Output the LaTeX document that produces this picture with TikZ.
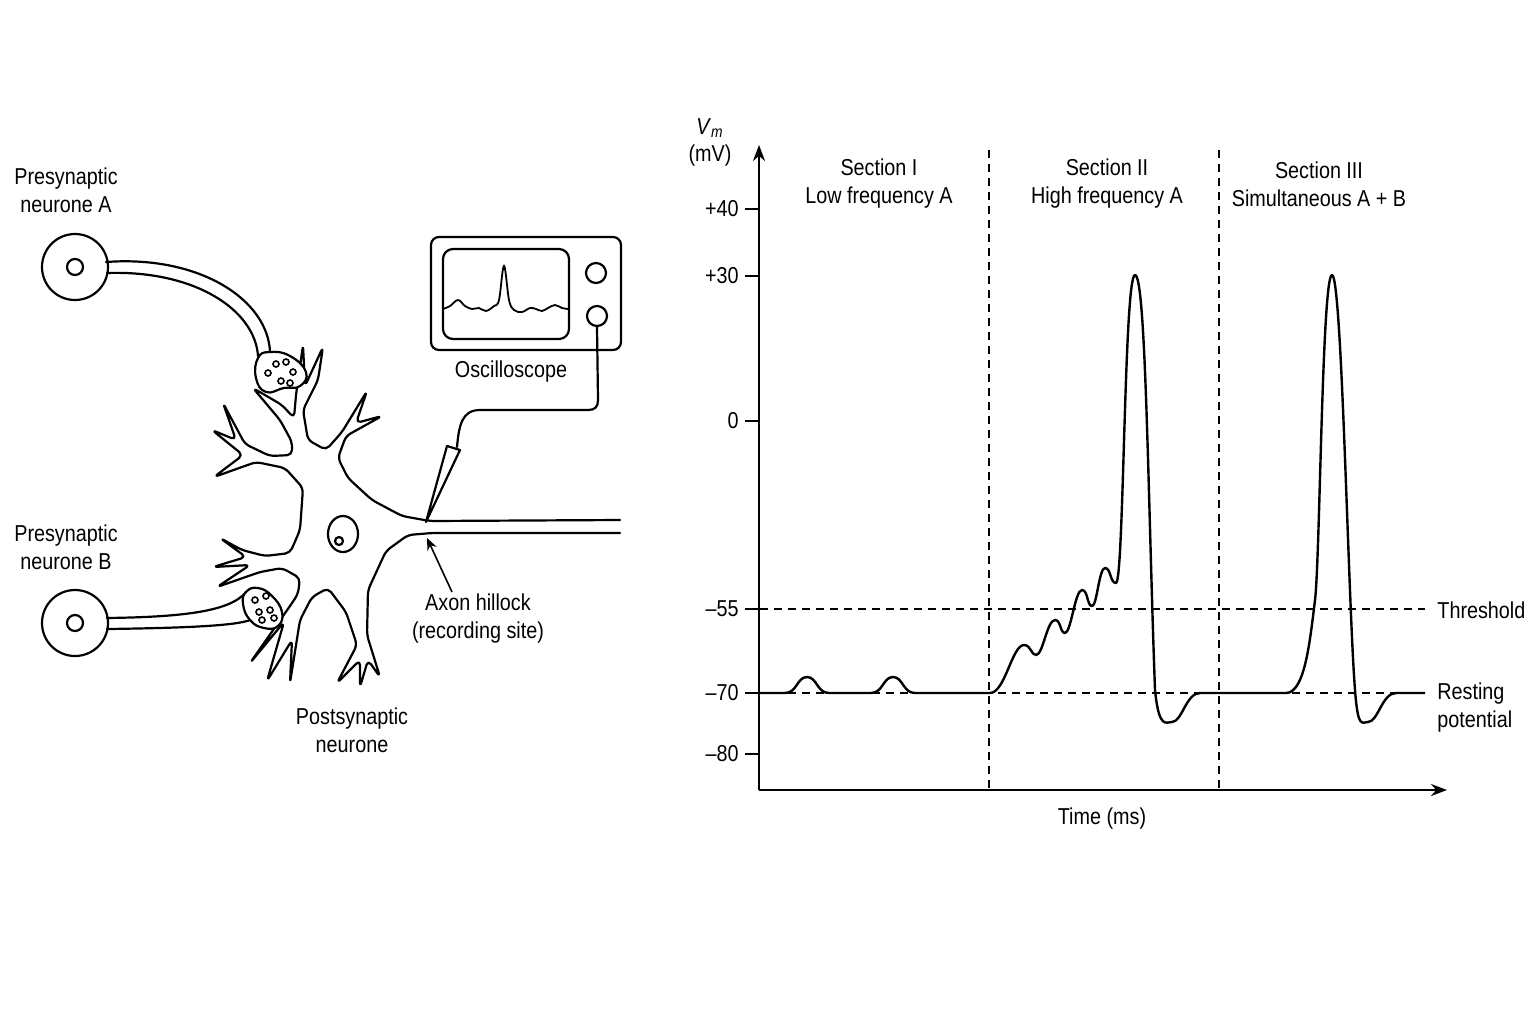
\documentclass[tikz,border=0pt]{standalone}
\usepackage{fontspec}
\setmainfont{Liberation Sans}[FakeStretch=0.86]
\usetikzlibrary{arrows.meta}
\begin{document}
\begin{tikzpicture}[x=0.5pt,y=-0.5pt,
  ln/.style={line width=1.1pt,line join=round,line cap=round},
  dsh/.style={line width=0.7pt,dash pattern=on 4pt off 3pt},
  lab/.style={font=\fontsize{11.5}{14}\selectfont,align=center,inner sep=0pt},
  tk/.style={font=\fontsize{11.5}{14}\selectfont,anchor=east,inner sep=0pt}]
\useasboundingbox (0,0) rectangle (1536,1024);
% ---------- neurone ----------
\draw[ln,rounded corners=2.5pt] (620,520) -- (430,521) -- (402,516) -- (372,500) -- (348,478) -- (338,458) -- (346,436)
 -- (382,416) -- (356,423) -- (367,391) -- (342,432) -- (326,450) -- (308,440) -- (303,410) -- (318,380) -- (323,347)
 -- (305,386) -- (303,345) -- (296,395) -- (294,418) -- (282,405) -- (253,388) -- (280,420) -- (292,442) -- (292,455)
 -- (270,456) -- (245,444) -- (223,403) -- (236,440) -- (212,430) -- (243,455) -- (214,477) -- (256,462) -- (285,468)
 -- (303,488) -- (300,530) -- (290,553) -- (265,556) -- (242,550) -- (220,538) -- (246,557) -- (213,567) -- (250,565)
 -- (217,587) -- (260,572) -- (282,568) -- (300,578) -- (298,594) -- (290,606) -- (250,663) -- (284,622) -- (267,681)
 -- (292,640) -- (290,683) -- (300,620) -- (312,597) -- (328,588) -- (346,612) -- (357,645) -- (337,683) -- (360,660)
 -- (360,687) -- (368,660) -- (380,677) -- (367,635) -- (368,590) -- (386,551) -- (408,535) -- (432,533) -- (620,533);
\draw[ln] (343,534) ellipse (15 and 18);
\draw[ln] (339,541) circle (4);
% presynaptic A
\node[ln,draw,circle,minimum size=66pt*0.5] (sa) at (75,267) {};
\draw[ln] (75,267) circle (8);
\draw[ln] (106,262) .. controls (200,255) and (268,300) .. (270,352);
\draw[ln] (107,273) .. controls (195,270) and (255,310) .. (258,356);
\draw[ln,fill=white] plot[smooth cycle,tension=0.8] coordinates {(270,352) (290,356) (306,372) (300,386) (284,388) (266,392) (256,378) (258,358)};
\foreach \p in {(268,373),(276,364),(286,362),(293,372),(281,381),(290,383)} \draw[line width=0.8pt] \p circle (3);
% presynaptic B
\node[ln,draw,circle,minimum size=66pt*0.5] (sb) at (75,623) {};
\draw[ln] (75,623) circle (8);
\draw[ln] (107,618) .. controls (180,617) and (230,612) .. (246,592);
\draw[ln] (107,629) .. controls (180,628) and (235,626) .. (250,620);
\draw[ln,fill=white] plot[smooth cycle,tension=0.8] coordinates {(246,592) (258,588) (272,596) (282,612) (278,626) (264,628) (250,620) (243,604)};
\foreach \p in {(255,600),(266,596),(270,610),(259,612),(262,620),(274,618)} \draw[line width=0.8pt] \p circle (3);
% oscilloscope
\draw[ln,rounded corners=4pt] (431,237) rectangle (621,350);
\draw[ln,rounded corners=5pt] (443,249) rectangle (569,339);
\node[ln,draw,circle,minimum size=10pt,inner sep=0pt] (k1) at (596,273) {};
\node[ln,draw,circle,minimum size=10pt,inner sep=0pt] (k2) at (597,316) {};
\draw[line width=0.9pt] plot[smooth,tension=0.6] coordinates {(443,309) (450,306) (458,300) (465,306) (472,309) (479,308) (486,311) (494,306) (499,300) (504,266) (509,300) (514,310) (522,312) (530,308) (536,309) (542,311) (548,308) (555,305) (562,308) (568,309)};
\coordinate (pr) at (457,447);
\draw[ln] (k2.south) -- (598,400) .. controls (598,407) and (595,410) .. (588,410) -- (480,410) .. controls (462,410) and (459,425) .. (pr);
\draw[ln] (447,446) -- (460,450) -- (426,522) -- cycle;
\node[lab] (osc) at (511,372) {Oscilloscope};
\node[lab] (pna) at (66,190) {Presynaptic\\neurone A};
\node[lab] (pnb) at (66,547) {Presynaptic\\neurone B};
\node[lab] (ah) at (478,619) {Axon hillock\\(recording site)};
\node[lab] (pn) at (352,730) {Postsynaptic\\neurone};
\coordinate (ahp) at (427,538);
\draw[line width=0.8pt,-{Stealth[length=6pt,width=5pt]}] (452,592) -- (ahp);
% ---------- graph ----------
\draw[line width=1pt,-{Stealth[length=8pt,width=6pt]}] (759,790) -- (759,145);
\draw[line width=1pt,-{Stealth[length=8pt,width=6pt]}] (759,790) -- (1447,790);
\foreach \y/\t in {209/+40,276/+30,421/0,609/{–55},693/{–70},754/{–80}} {
  \draw[line width=0.8pt] (745,\y) -- (759,\y);
  \node[tk] at (739,\y) {\t};}
\node[lab] (vm) at (710,128) {\textit{V}\textsubscript{\textit{m}}};
\node[lab] (mv) at (710,156) {(mV)};
\draw[dsh] (989,150) -- (989,790);
\draw[dsh] (1219,150) -- (1219,790);
\draw[dsh] (760,609) -- (1425,609);
\draw[dsh] (760,693) -- (1425,693);
\node[lab] at (879,184) {Section I\\Low frequency A};
\node[lab] at (1107,184) {Section II\\High frequency A};
\node[lab] at (1319,184) {Section III\\Simultaneous A + B};
\node[lab,anchor=west] at (1437,610) {Threshold};
\node[lab,anchor=west,align=left] at (1437,708) {Resting\\potential};
\node[lab] at (1102,819) {Time (ms)};
\draw[line width=1.2pt,line join=round] (759,693) -- (785,693)
  .. controls (797,693) and (797,677) .. (807,677) .. controls (817,677) and (817,693) .. (829,693) -- (871,693)
  .. controls (883,693) and (883,677) .. (893,677) .. controls (903,677) and (903,693) .. (915,693) -- (990,693)
  .. controls (1005,693) and (1012,645) .. (1024,645) .. controls (1031,645) and (1031,655) .. (1036,655)
  .. controls (1043,655) and (1047,620) .. (1055,620) .. controls (1061,620) and (1060,633) .. (1065,633)
  .. controls (1071,633) and (1075,590) .. (1082,590) .. controls (1088,590) and (1087,606) .. (1092,606)
  .. controls (1097,606) and (1099,568) .. (1105,568) .. controls (1111,568) and (1110,583) .. (1116,583)
  .. controls (1124,583) and (1124,275) .. (1135,275) .. controls (1146,275) and (1148,500) .. (1155,690)
  .. controls (1159,730) and (1166,722) .. (1172,722) .. controls (1182,722) and (1186,693) .. (1200,693) -- (1286,693)
  .. controls (1305,693) and (1310,640) .. (1315,600) .. controls (1320,560) and (1322,275) .. (1332,275)
  .. controls (1342,275) and (1348,600) .. (1355,690) .. controls (1358,730) and (1362,722) .. (1368,722)
  .. controls (1378,722) and (1382,693) .. (1396,693) -- (1425,693);
\end{tikzpicture}
\end{document}
